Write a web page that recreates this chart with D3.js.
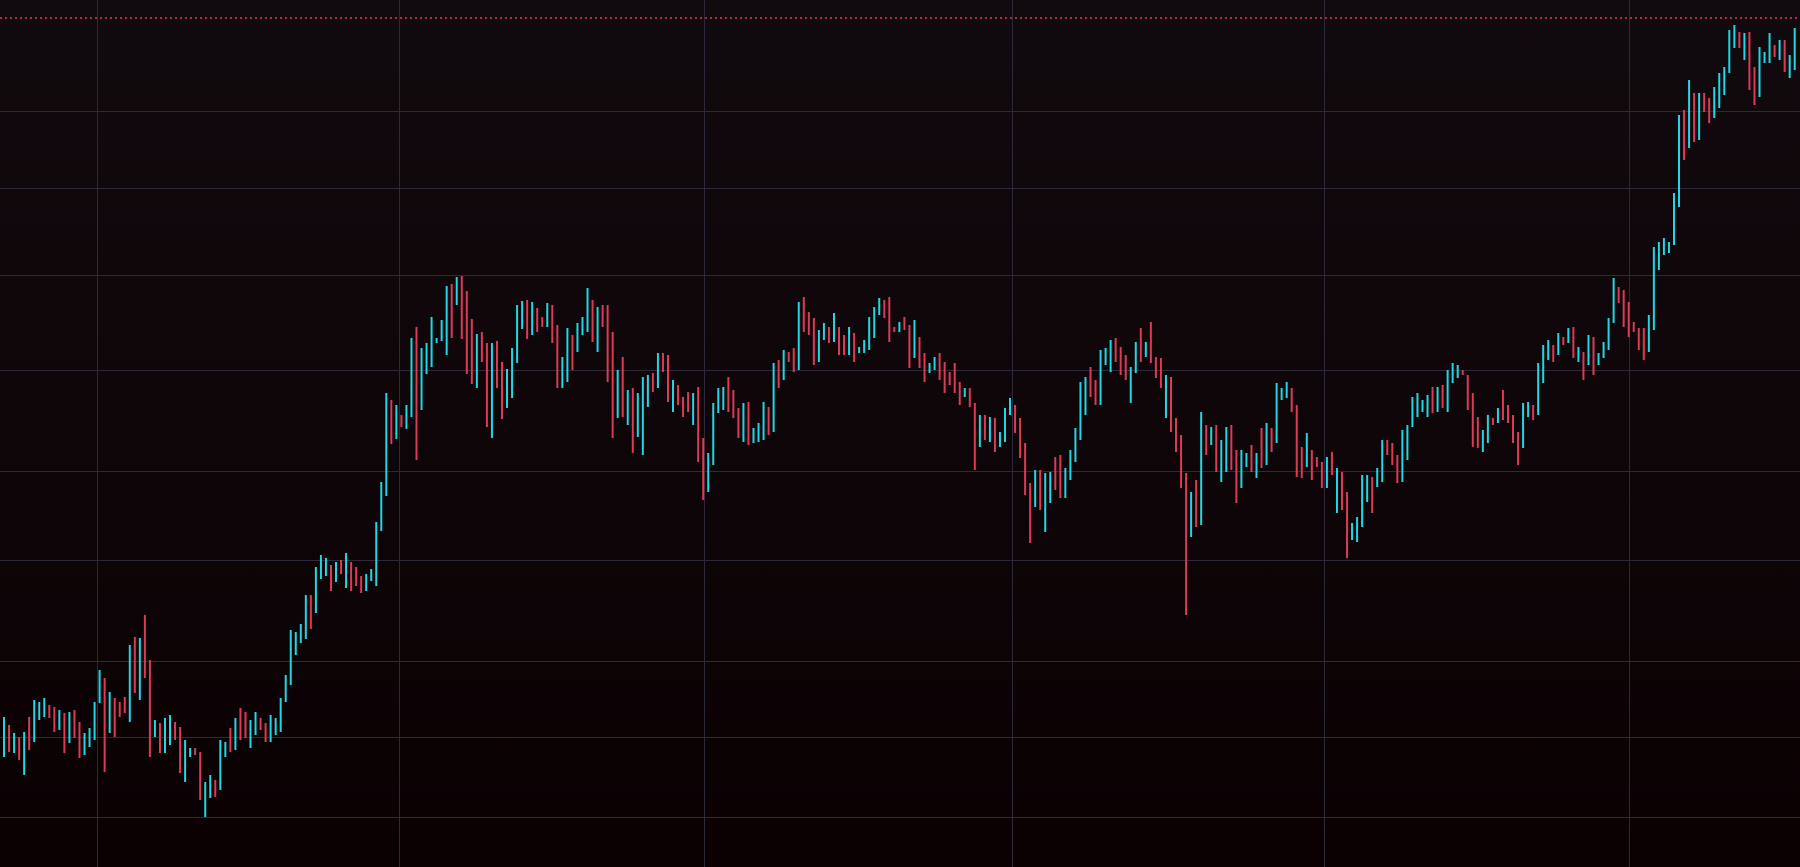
<!DOCTYPE html>
<html>
<head>
<meta charset="utf-8">
<script src="https://cdn.jsdelivr.net/npm/d3@7"></script>
<style>
  html, body { margin: 0; padding: 0; background: #0b0306; overflow: hidden; }
</style>
</head>
<body>
<div id="chart"></div>
<script>
// bar highs, lows and direction (1 = up / cyan, 0 = down / red)
const highs = [150,150,142,134,130,135,150,167,165,169,162,160,157,154,155,157,145,134,139,165,
  197,189,175,169,165,170,222,230,229,252,207,147,144,149,152,145,140,127,119,119,
  115,85,92,87,127,125,139,149,159,155,147,155,149,144,152,149,169,192,237,235,
  243,272,272,300,312,309,302,305,307,314,305,300,291,293,298,345,385,474,467,462,
  452,462,529,540,519,524,550,529,547,581,583,590,591,576,548,533,535,524,524,526,
  505,498,519,562,566,567,565,559,550,564,562,542,510,539,532,544,550,579,567,560,
  562,562,535,497,510,477,479,474,490,492,494,514,514,512,487,482,470,475,474,480,
  429,414,464,479,480,490,477,459,464,465,439,444,465,460,504,507,517,515,519,565,
  570,555,549,537,544,540,554,540,532,540,534,520,527,550,560,569,567,570,540,545,
  550,542,547,530,514,504,510,514,505,495,504,485,479,479,464,452,452,450,449,435,
  459,469,462,449,424,384,397,397,394,395,410,412,399,417,439,485,490,500,487,517,
  519,527,529,520,512,500,525,539,525,545,510,509,492,490,449,432,394,375,387,455,
  442,440,442,427,440,442,417,417,414,422,414,439,444,439,484,479,485,479,462,420,
  434,417,410,405,410,415,399,395,375,344,350,392,392,390,399,427,427,424,412,437,
  442,470,474,467,472,480,480,482,497,504,502,497,492,474,450,437,452,449,459,477,
  462,452,435,464,465,462,504,522,527,522,534,530,539,540,520,515,532,530,514,525,
  549,589,580,577,565,545,539,539,552,620,625,629,625,674,752,757,787,774,774,774,
  769,780,794,800,837,842,835,834,835,800,820,815,834,822,827,827,812,839];
const lows = [94,110,115,114,107,92,117,125,147,150,149,135,137,114,124,129,109,112,120,127,
  164,95,134,130,150,154,145,174,167,189,110,130,114,114,122,127,94,85,110,112,
  67,50,69,70,77,110,115,117,127,129,119,132,137,125,125,132,135,165,182,212,
  224,228,238,254,288,291,276,285,293,279,276,281,274,276,286,281,336,371,423,428,
  440,438,450,407,457,493,500,524,526,512,529,562,528,493,483,479,505,440,429,479,
  448,459,469,504,538,528,532,535,540,540,524,479,479,485,497,515,532,535,525,515,
  540,485,429,449,450,442,414,430,412,460,475,479,495,465,455,462,450,455,442,405,
  367,375,402,454,457,455,449,429,425,422,424,425,427,432,435,479,487,505,495,497,
  535,532,502,505,527,524,525,512,512,512,505,514,514,517,529,552,549,525,535,535,
  537,499,509,499,485,494,497,487,474,482,474,462,470,460,397,420,427,425,415,420,
  425,452,434,409,372,324,360,357,335,364,377,369,369,387,405,427,452,470,462,462,
  502,495,505,492,487,464,494,505,510,504,489,479,449,435,415,379,252,330,340,342,
  412,422,395,385,395,397,364,379,400,395,389,399,402,415,424,467,469,455,390,389,
  400,387,400,379,379,392,354,357,309,327,325,340,365,354,380,385,412,402,384,385,
  407,440,450,455,450,454,455,459,455,484,489,492,457,420,419,415,424,442,444,447,
  444,424,402,419,450,447,452,484,507,505,512,522,524,509,505,487,502,492,502,509,
  517,544,564,540,530,535,517,507,515,537,597,612,614,622,660,707,719,725,727,755,
  744,749,759,772,794,819,819,807,777,762,770,804,804,810,807,795,789,797];
const rising = [1,1,0,1,0,1,0,1,1,1,0,0,1,0,1,0,0,1,1,1,
  1,0,1,0,0,0,1,0,1,0,0,1,0,1,1,0,0,1,1,0,
  0,1,1,0,1,1,0,1,0,0,1,1,0,0,1,1,1,1,1,1,
  1,1,0,1,1,1,0,1,0,1,0,0,0,1,1,1,1,1,0,1,
  0,1,1,0,1,1,1,1,1,1,0,1,0,0,0,1,0,0,1,0,
  0,1,1,1,1,0,1,0,0,1,0,0,1,1,0,1,1,1,0,1,
  0,0,0,1,0,1,0,1,1,1,0,1,0,0,1,0,0,0,1,0,
  0,1,1,1,1,0,0,0,1,0,1,1,1,0,1,0,1,0,0,1,
  0,0,0,1,1,0,1,0,0,1,0,1,1,1,1,1,0,0,0,1,
  0,0,1,0,0,1,1,0,0,0,0,0,1,0,0,1,0,1,0,1,
  1,1,0,0,0,0,1,0,1,1,0,0,1,1,1,1,1,0,0,1,
  1,1,0,0,0,1,1,0,1,0,0,0,1,0,0,0,0,1,0,1,
  0,1,0,1,1,0,0,1,1,0,1,0,1,0,1,1,1,0,0,0,
  1,0,0,0,1,0,1,0,0,1,1,1,1,0,1,1,0,0,0,1,
  1,1,1,1,1,0,1,0,1,1,1,0,0,0,0,1,1,0,1,0,
  0,0,0,1,1,0,1,1,1,0,1,0,1,0,1,0,1,0,1,1,
  1,1,0,0,0,0,0,0,1,1,1,1,1,1,1,0,1,0,1,0,
  0,1,1,1,1,1,0,1,0,0,1,1,1,0,1,0,1,1];

const priceTicks = [50, 130, 206, 307, 396, 497, 592, 679, 756];
const timeTicks = [19.4, 79.6, 140.2, 201.3, 263.5, 324.1];
const alertLevel = 849;

const width = 1800, height = 867;
const upColor = "#1fd8e4", downColor = "#dc3a55";

const x = d3.scaleLinear().domain([0, highs.length - 1]).range([-1, 1794.7]);
const y = d3.scaleLinear().domain([0, 867]).range([height, 0]);

const svg = d3.select("#chart").append("svg")
  .attr("width", width).attr("height", height)
  .attr("viewBox", [0, 0, width, height]);

const grad = svg.append("defs").append("linearGradient")
  .attr("id", "bg").attr("x1", 0).attr("y1", 0).attr("x2", 0).attr("y2", 1);
grad.append("stop").attr("offset", "0%").attr("stop-color", "#110a0e");
grad.append("stop").attr("offset", "100%").attr("stop-color", "#0b0103");

svg.append("rect").attr("width", width).attr("height", height).attr("fill", "url(#bg)");

// grid
const grid = svg.append("g").attr("stroke", "#2c2a3a").attr("stroke-width", 1);
grid.selectAll("line.h").data(priceTicks).join("line")
  .attr("class", "h")
  .attr("x1", 0).attr("x2", width)
  .attr("y1", (d) => Math.round(y(d)) + 0.5).attr("y2", (d) => Math.round(y(d)) + 0.5);
grid.selectAll("line.v").data(timeTicks).join("line")
  .attr("class", "v")
  .attr("y1", 0).attr("y2", height)
  .attr("x1", (d) => Math.round(x(d)) + 0.5).attr("x2", (d) => Math.round(x(d)) + 0.5);

// alert line
svg.append("line")
  .attr("x1", 0).attr("x2", width)
  .attr("y1", y(alertLevel)).attr("y2", y(alertLevel))
  .attr("stroke", downColor).attr("stroke-width", 1.5)
  .attr("stroke-dasharray", "2,3");

// bars
svg.append("g")
  .attr("stroke-width", 2)
  .selectAll("line")
  .data(highs)
  .join("line")
  .attr("x1", (_, i) => x(i)).attr("x2", (_, i) => x(i))
  .attr("y1", (d) => y(d))
  .attr("y2", (_, i) => y(lows[i]))
  .attr("stroke", (_, i) => rising[i] ? upColor : downColor);
</script>
</body>
</html>
